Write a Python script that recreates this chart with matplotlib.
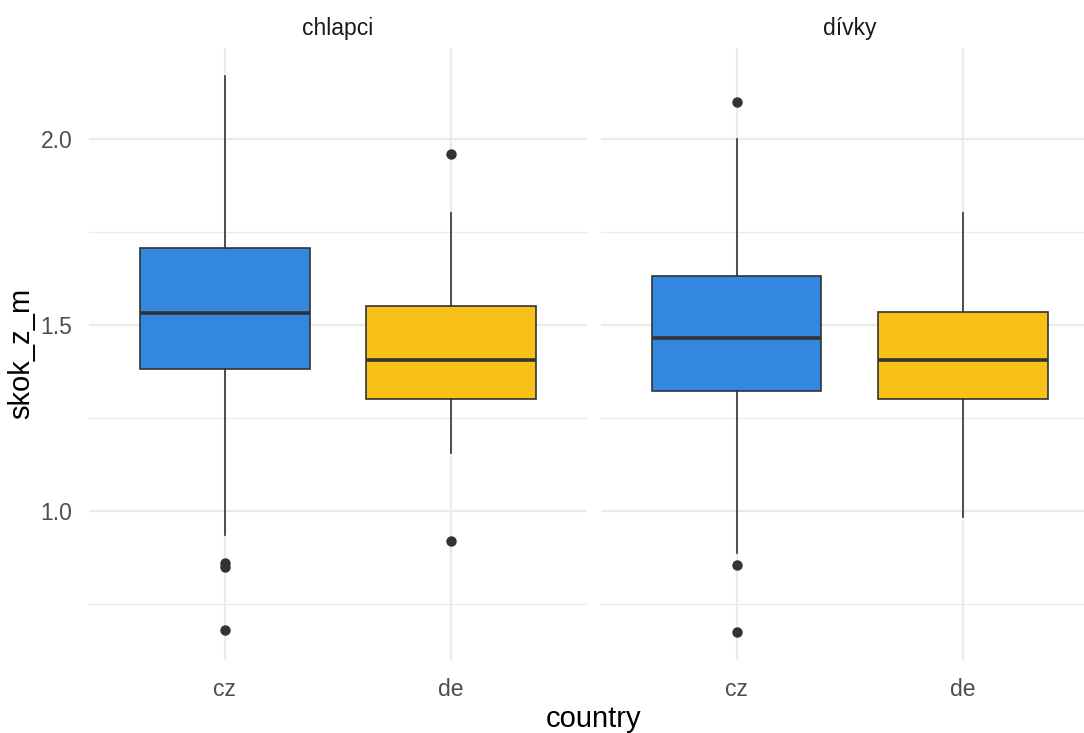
import matplotlib
matplotlib.use('Agg')
import matplotlib.pyplot as plt

plt.rcParams['font.family'] = ['Liberation Sans', 'DejaVu Sans']

# facets and groups
panels = ['chlapci', 'dívky']
countries = ['cz', 'de']
colors = ['#3487E0', '#F7C118']

# box statistics: [cz, de] for each panel
whislo = {'chlapci': [0.935, 1.155], 'dívky': [0.887, 0.984]}
q1 = {'chlapci': [1.381, 1.30], 'dívky': [1.322, 1.30]}
med = {'chlapci': [1.532, 1.406], 'dívky': [1.465, 1.406]}
q3 = {'chlapci': [1.707, 1.551], 'dívky': [1.632, 1.535]}
whishi = {'chlapci': [2.17, 1.80], 'dívky': [2.00, 1.80]}
fliers = {'chlapci': [[0.86, 0.85, 0.68], [1.96, 0.92]],
          'dívky': [[2.10, 0.855, 0.675], []]}

W, H = 1084, 733
fig = plt.figure(figsize=(W / 100, H / 100), dpi=100)

grid_col = '#EBEBEB'
edge = '#333333'
top_px, bot_px = 47.7, 660
lefts = [89, 600.7]
pw = 498

axes = []
for k, p in enumerate(panels):
    ax = fig.add_axes([lefts[k] / W, (H - bot_px) / H, pw / W, (bot_px - top_px) / H])
    axes.append(ax)
    stats = []
    for i in range(len(countries)):
        stats.append(dict(whislo=whislo[p][i], q1=q1[p][i], med=med[p][i],
                          q3=q3[p][i], whishi=whishi[p][i], fliers=fliers[p][i]))
    bp = ax.bxp(stats, positions=[1, 2], widths=0.75, patch_artist=True,
                showcaps=False,
                boxprops=dict(edgecolor=edge, linewidth=1.2),
                medianprops=dict(color=edge, linewidth=2.6),
                whiskerprops=dict(color=edge, linewidth=1.2),
                flierprops=dict(marker='o', markerfacecolor=edge,
                                markeredgecolor=edge, markersize=6.5))
    for patch, c in zip(bp['boxes'], colors):
        patch.set_facecolor(c)
    ax.set_xlim(0.4, 2.6)
    ax.set_ylim(0.60, 2.245)
    ax.set_xticks([1, 2])
    ax.set_xticklabels(countries)
    ax.set_yticks([1.0, 1.5, 2.0])
    ax.set_yticks([0.75, 1.25, 1.75], minor=True)
    ax.grid(True, which='major', color=grid_col, linewidth=1.6)
    ax.grid(True, which='minor', axis='y', color=grid_col, linewidth=0.9)
    ax.set_axisbelow(True)
    for s in ax.spines.values():
        s.set_visible(False)
    ax.tick_params(which='both', length=0, labelsize=16.5, labelcolor='#4D4D4D')
    ax.tick_params(axis='x', pad=13)
    ax.tick_params(axis='y', pad=12)
    if k == 0:
        ax.set_yticklabels(['1.0', '1.5', '2.0'])
    else:
        ax.set_yticklabels([])
    ax.set_title(p, fontsize=16.5, color='#1A1A1A', pad=9)

axes[0].set_ylabel('skok_z_m', fontsize=21, color='black', labelpad=4)
fig.text(594 / W, 1 - 719 / H, 'country', fontsize=21, ha='center', va='center')

fig.savefig('out.png', dpi=100, facecolor='white')
